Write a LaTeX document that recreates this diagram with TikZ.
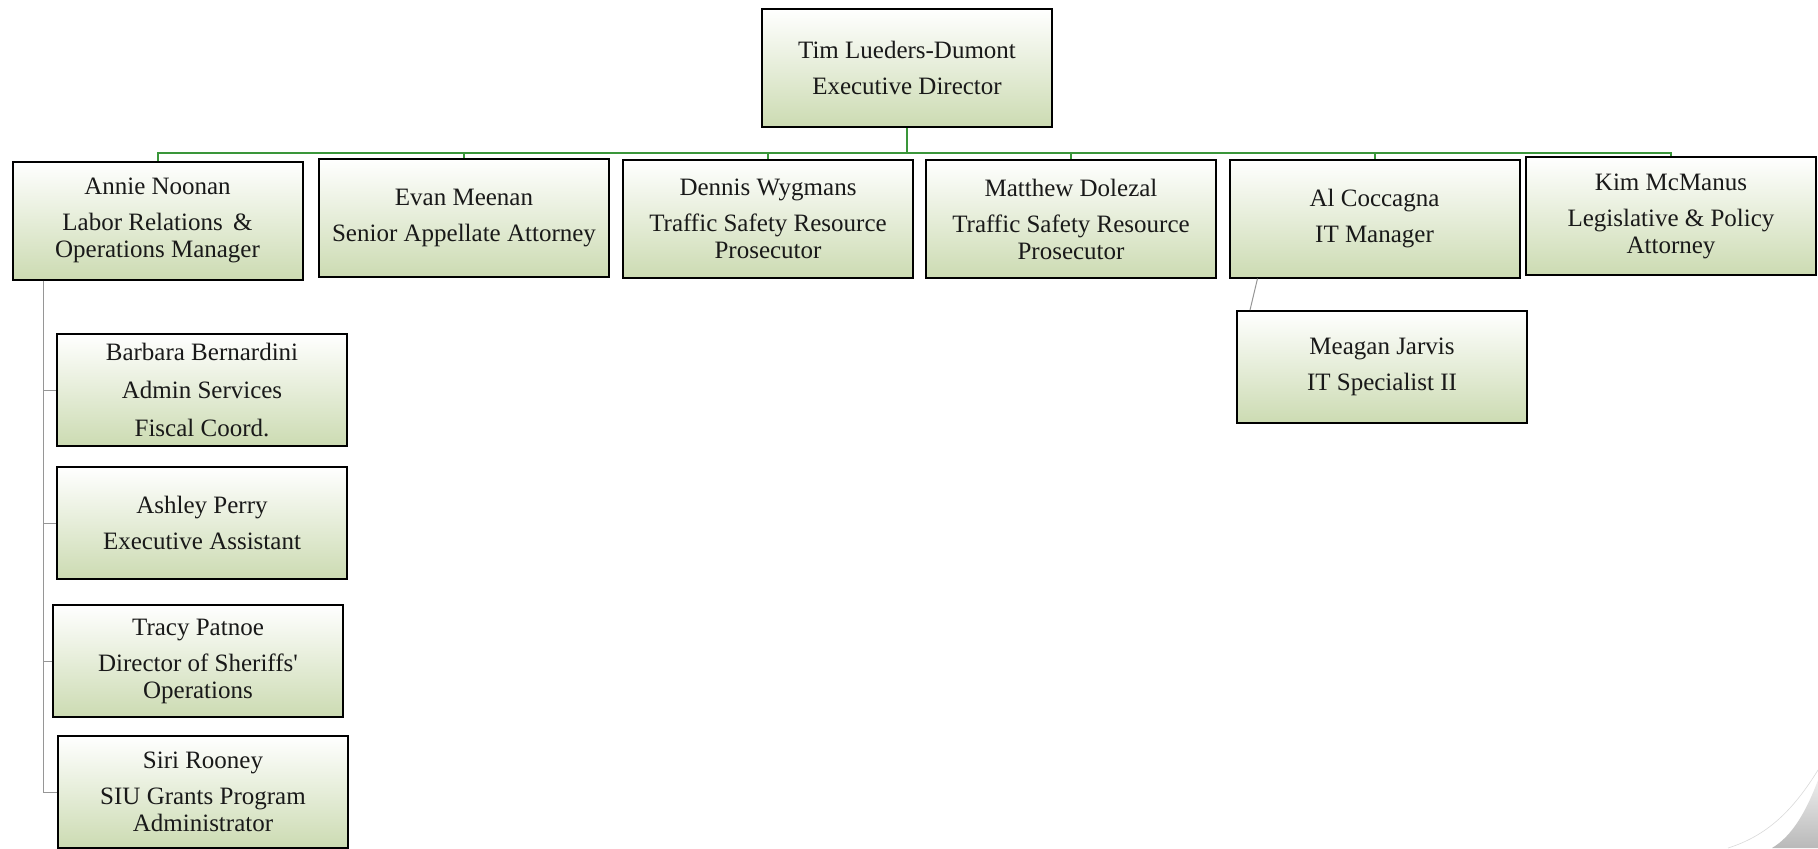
\documentclass[tikz,border=0pt]{standalone}
\usepackage{fontspec}
\setmainfont{Liberation Serif}
\newfontfamily\plainserif{Liberation Serif}

\definecolor{boxgreen}{RGB}{204,219,178}
\definecolor{busgreen}{RGB}{58,150,58}
\definecolor{staffgray}{RGB}{150,150,150}

\begin{document}
\begin{tikzpicture}[x=0.5pt, y=-0.5pt,
	every node/.style={font=\fontsize{12.5}{13.5}\selectfont, align=center, text=black!90},
	member/.style={draw=black, line width=1pt, top color=white, bottom color=boxgreen, inner sep=0pt, minimum width=145pt, minimum height=59pt},
	staff/.style={member, minimum height=56pt},
	bus/.style={draw=busgreen, line width=1pt},
	link/.style={draw=staffgray, line width=0.5pt}]
		\useasboundingbox (0, 0) rectangle (1818, 848);
		
		\shade[top color=gray!15, bottom color=gray!55] (1818, 780) .. controls (1806, 812) and (1792, 836) .. (1772, 848) -- (1818, 848) -- cycle;
		\draw[gray!30, line width=0.3pt] (1818, 770) .. controls (1792, 812) and (1766, 836) .. (1728, 848);
		
		\node[member] (tim) at (907, 68) {Tim Lueders-Dumont\\[4.5pt] Executive Director};
		
		\node[member] (annie) at (157.5, 220.5) {Annie Noonan\\[4.5pt] Labor Relations \,\&\\ Operations Manager};
		\node[member] (evan) at (464, 218) {Evan Meenan\\[4.5pt] Senior Appellate Attorney};
		\node[member] (dennis) at (768, 219) {Dennis Wygmans\\[4.5pt] Traffic Safety Resource\\ Prosecutor};
		\node[member] (matthew) at (1071, 219) {Matthew Dolezal\\[4.5pt] Traffic Safety Resource\\ Prosecutor};
		\node[member] (al) at (1374.5, 218.5) {Al Coccagna\\[4.5pt] IT Manager};
		\node[member] (kim) at (1671, 216) {Kim McManus\\[4.5pt] Legislative \& Policy\\ Attorney};
		
		\node[staff] (meagan) at (1382, 367) {Meagan Jarvis\\[4.5pt] IT Specialist II};
		
		\node[staff] (barbara) at (202, 390) {Barbara Bernardini\\[5.5pt] Admin Services\\[5.5pt] Fiscal Coord.};
		\node[staff] (ashley) at (202, 523) {Ashley Perry\\[4.5pt] Executive Assistant};
		\node[staff] (tracy) at (198, 661) {Tracy Patnoe\\[4.5pt] Director of Sheriffs{\plainserif'}\\ Operations};
		\node[staff] (siri) at (203, 792) {Siri Rooney\\[4.5pt] SIU Grants Program\\ Administrator};
		
		\coordinate (bus) at (907, 153);
		\coordinate (spine) at (43, 279);
		
		\draw[bus] (tim.south) -- (tim.south |- bus);
		\draw[bus] (annie.north) -- (annie.north |- bus) -- (kim.north |- bus) -- (kim.north);
		\foreach \n in {evan, dennis, matthew, al}
			\draw[bus] (\n.north) -- (\n.north |- bus);
		
		\draw[link] (annie.south -| spine) -- (siri.west -| spine) -- (siri.west);
		\foreach \n in {barbara, ashley, tracy}
			\draw[link] (\n.west -| spine) -- (\n.west);
		\draw[link] ([xshift=14.5pt]al.south west) -- ([xshift=7pt]meagan.north west);
	\end{tikzpicture}
\end{document}
